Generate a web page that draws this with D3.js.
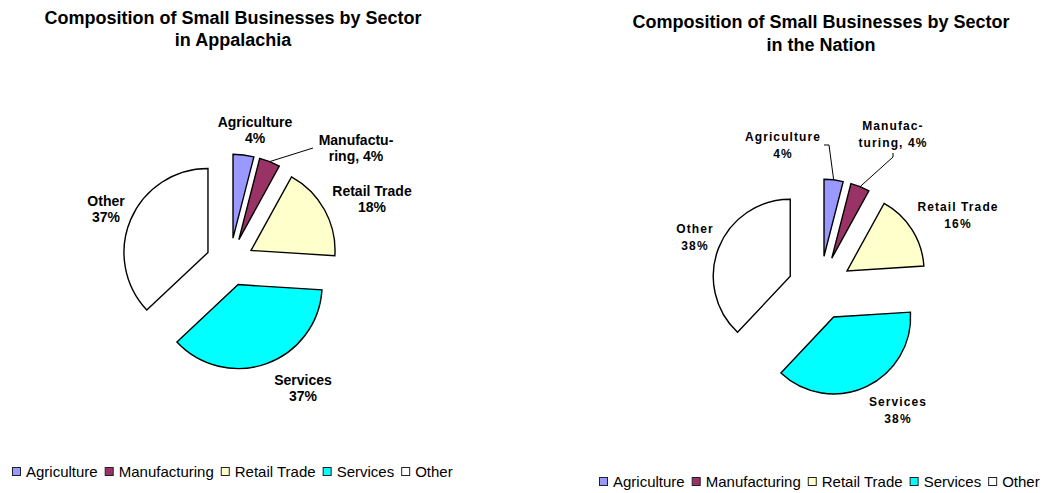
<!DOCTYPE html>
<html>
<head>
<meta charset="utf-8">
<script src="https://cdn.jsdelivr.net/npm/d3@7"></script>
<style>
  html, body { margin: 0; padding: 0; background: #fff; }
  svg { display: block; font-family: "Liberation Sans", Arial, sans-serif; }
</style>
</head>
<body>
<svg id="chart" width="1045" height="493"></svg>
<script>
// ---------- DATA ----------
const sectors = ["Agriculture", "Manufacturing", "Retail Trade", "Services", "Other"];
const appalachiaValues = [4, 4, 18, 37, 37];
const nationValues = [4, 4, 16, 38, 38];
const sectorColors = ["#9999FF", "#993366", "#FFFFCC", "#00FFFF", "#FFFFFF"];
const appalachiaTitle = ["Composition of Small Businesses by Sector", "in Appalachia"];
const nationTitle = ["Composition of Small Businesses by Sector", "in the Nation"];
const appalachiaLabelNames = [["Agriculture"], ["Manufactu-", "ring, "], ["Retail Trade"], ["Services"], ["Other"]];
const nationLabelNames = [["Agriculture"], ["Manufac-", "turing, "], ["Retail Trade"], ["Services"], ["Other"]];

// ---------- LAYOUT (positions / styles) ----------
const layouts = [
  {
    values: appalachiaValues, title: appalachiaTitle, names: appalachiaLabelNames,
    cx: 230, cy: 262, r: 84, explode: 24,
    titleX: 233, titleY: 24, titleGap: 22,
    labelSize: 14, labelSpacing: 0, lineH: 16,
    labelOffsets: [[25, -135], [126, -117], [142, -66], [73, 123], [-124, -56]],
    leaders: { 1: [[83, -114]] },
    legendX: 12, legendY: 477
  },
  {
    values: nationValues, title: nationTitle, names: nationLabelNames,
    cx: 820, cy: 288, r: 77, explode: 32,
    titleX: 821, titleY: 28, titleGap: 23,
    labelSize: 12, labelSpacing: 1.1, lineH: 16.5,
    labelOffsets: [[-37, -147], [73, -158], [138, -77], [78, 118], [-125, -55]],
    leaders: { 0: [[9, -143], [4, -143]], 1: [[73, -131], [73, -135]] },
    legendX: 599, legendY: 487
  }
];

const svg = d3.select("#chart");
const pie = d3.pie().sort(null).value(d => d);

layouts.forEach(L => {
  const g = svg.append("g");

  // title
  L.title.forEach((t, i) => {
    g.append("text")
      .attr("x", L.titleX).attr("y", L.titleY + i * L.titleGap)
      .attr("text-anchor", "middle")
      .attr("font-size", 18).attr("font-weight", "bold")
      .attr("fill", "#000")
      .text(t);
  });

  const arcs = pie(L.values);
  const arc = d3.arc().innerRadius(0).outerRadius(L.r);
  const pieG = g.append("g").attr("transform", `translate(${L.cx},${L.cy})`);

  const offsetOf = d => {
    const mid = (d.startAngle + d.endAngle) / 2;
    return [L.explode * Math.sin(mid), -L.explode * Math.cos(mid)];
  };

  pieG.selectAll("path.slice")
    .data(arcs)
    .join("path")
    .attr("class", "slice")
    .attr("transform", d => { const o = offsetOf(d); return `translate(${o[0]},${o[1]})`; })
    .attr("d", arc)
    .attr("fill", (d, i) => sectorColors[i])
    .attr("stroke", "#000")
    .attr("stroke-width", 1.4)
    .attr("stroke-linejoin", "miter");

  // leader lines
  Object.keys(L.leaders).forEach(k => {
    const d = arcs[+k];
    const mid = (d.startAngle + d.endAngle) / 2;
    const o = offsetOf(d);
    const start = [o[0] + L.r * Math.sin(mid), o[1] - L.r * Math.cos(mid)];
    const pts = [start].concat(L.leaders[k]);
    pieG.append("path")
      .attr("d", d3.line()(pts))
      .attr("fill", "none").attr("stroke", "#000").attr("stroke-width", 1);
  });

  // labels
  arcs.forEach((d, i) => {
    const pct = Math.round(d.data) + "%";
    const lines = L.names[i].slice();
    const last = lines[lines.length - 1];
    if (last.endsWith(", ")) lines[lines.length - 1] = last + pct;
    else lines.push(pct);
    const [dx, dy] = L.labelOffsets[i];
    const t = pieG.append("text")
      .attr("text-anchor", "middle")
      .attr("font-size", L.labelSize).attr("font-weight", "bold")
      .attr("letter-spacing", L.labelSpacing)
      .attr("fill", "#000");
    lines.forEach((ln, j) => {
      t.append("tspan").attr("x", dx).attr("y", dy + j * L.lineH).text(ln);
    });
  });

  // legend
  const lg = g.append("g");
  let x = L.legendX;
  sectors.forEach((s, i) => {
    lg.append("rect")
      .attr("x", x + 0.5).attr("y", L.legendY - 9.5)
      .attr("width", 8).attr("height", 8)
      .attr("fill", sectorColors[i]).attr("stroke", "#222").attr("stroke-width", 1);
    const tx = lg.append("text")
      .attr("x", x + 14).attr("y", L.legendY)
      .attr("font-size", 15).attr("fill", "#000")
      .text(s);
    x += 14 + tx.node().getComputedTextLength() + 7;
  });
});
</script>
</body>
</html>
